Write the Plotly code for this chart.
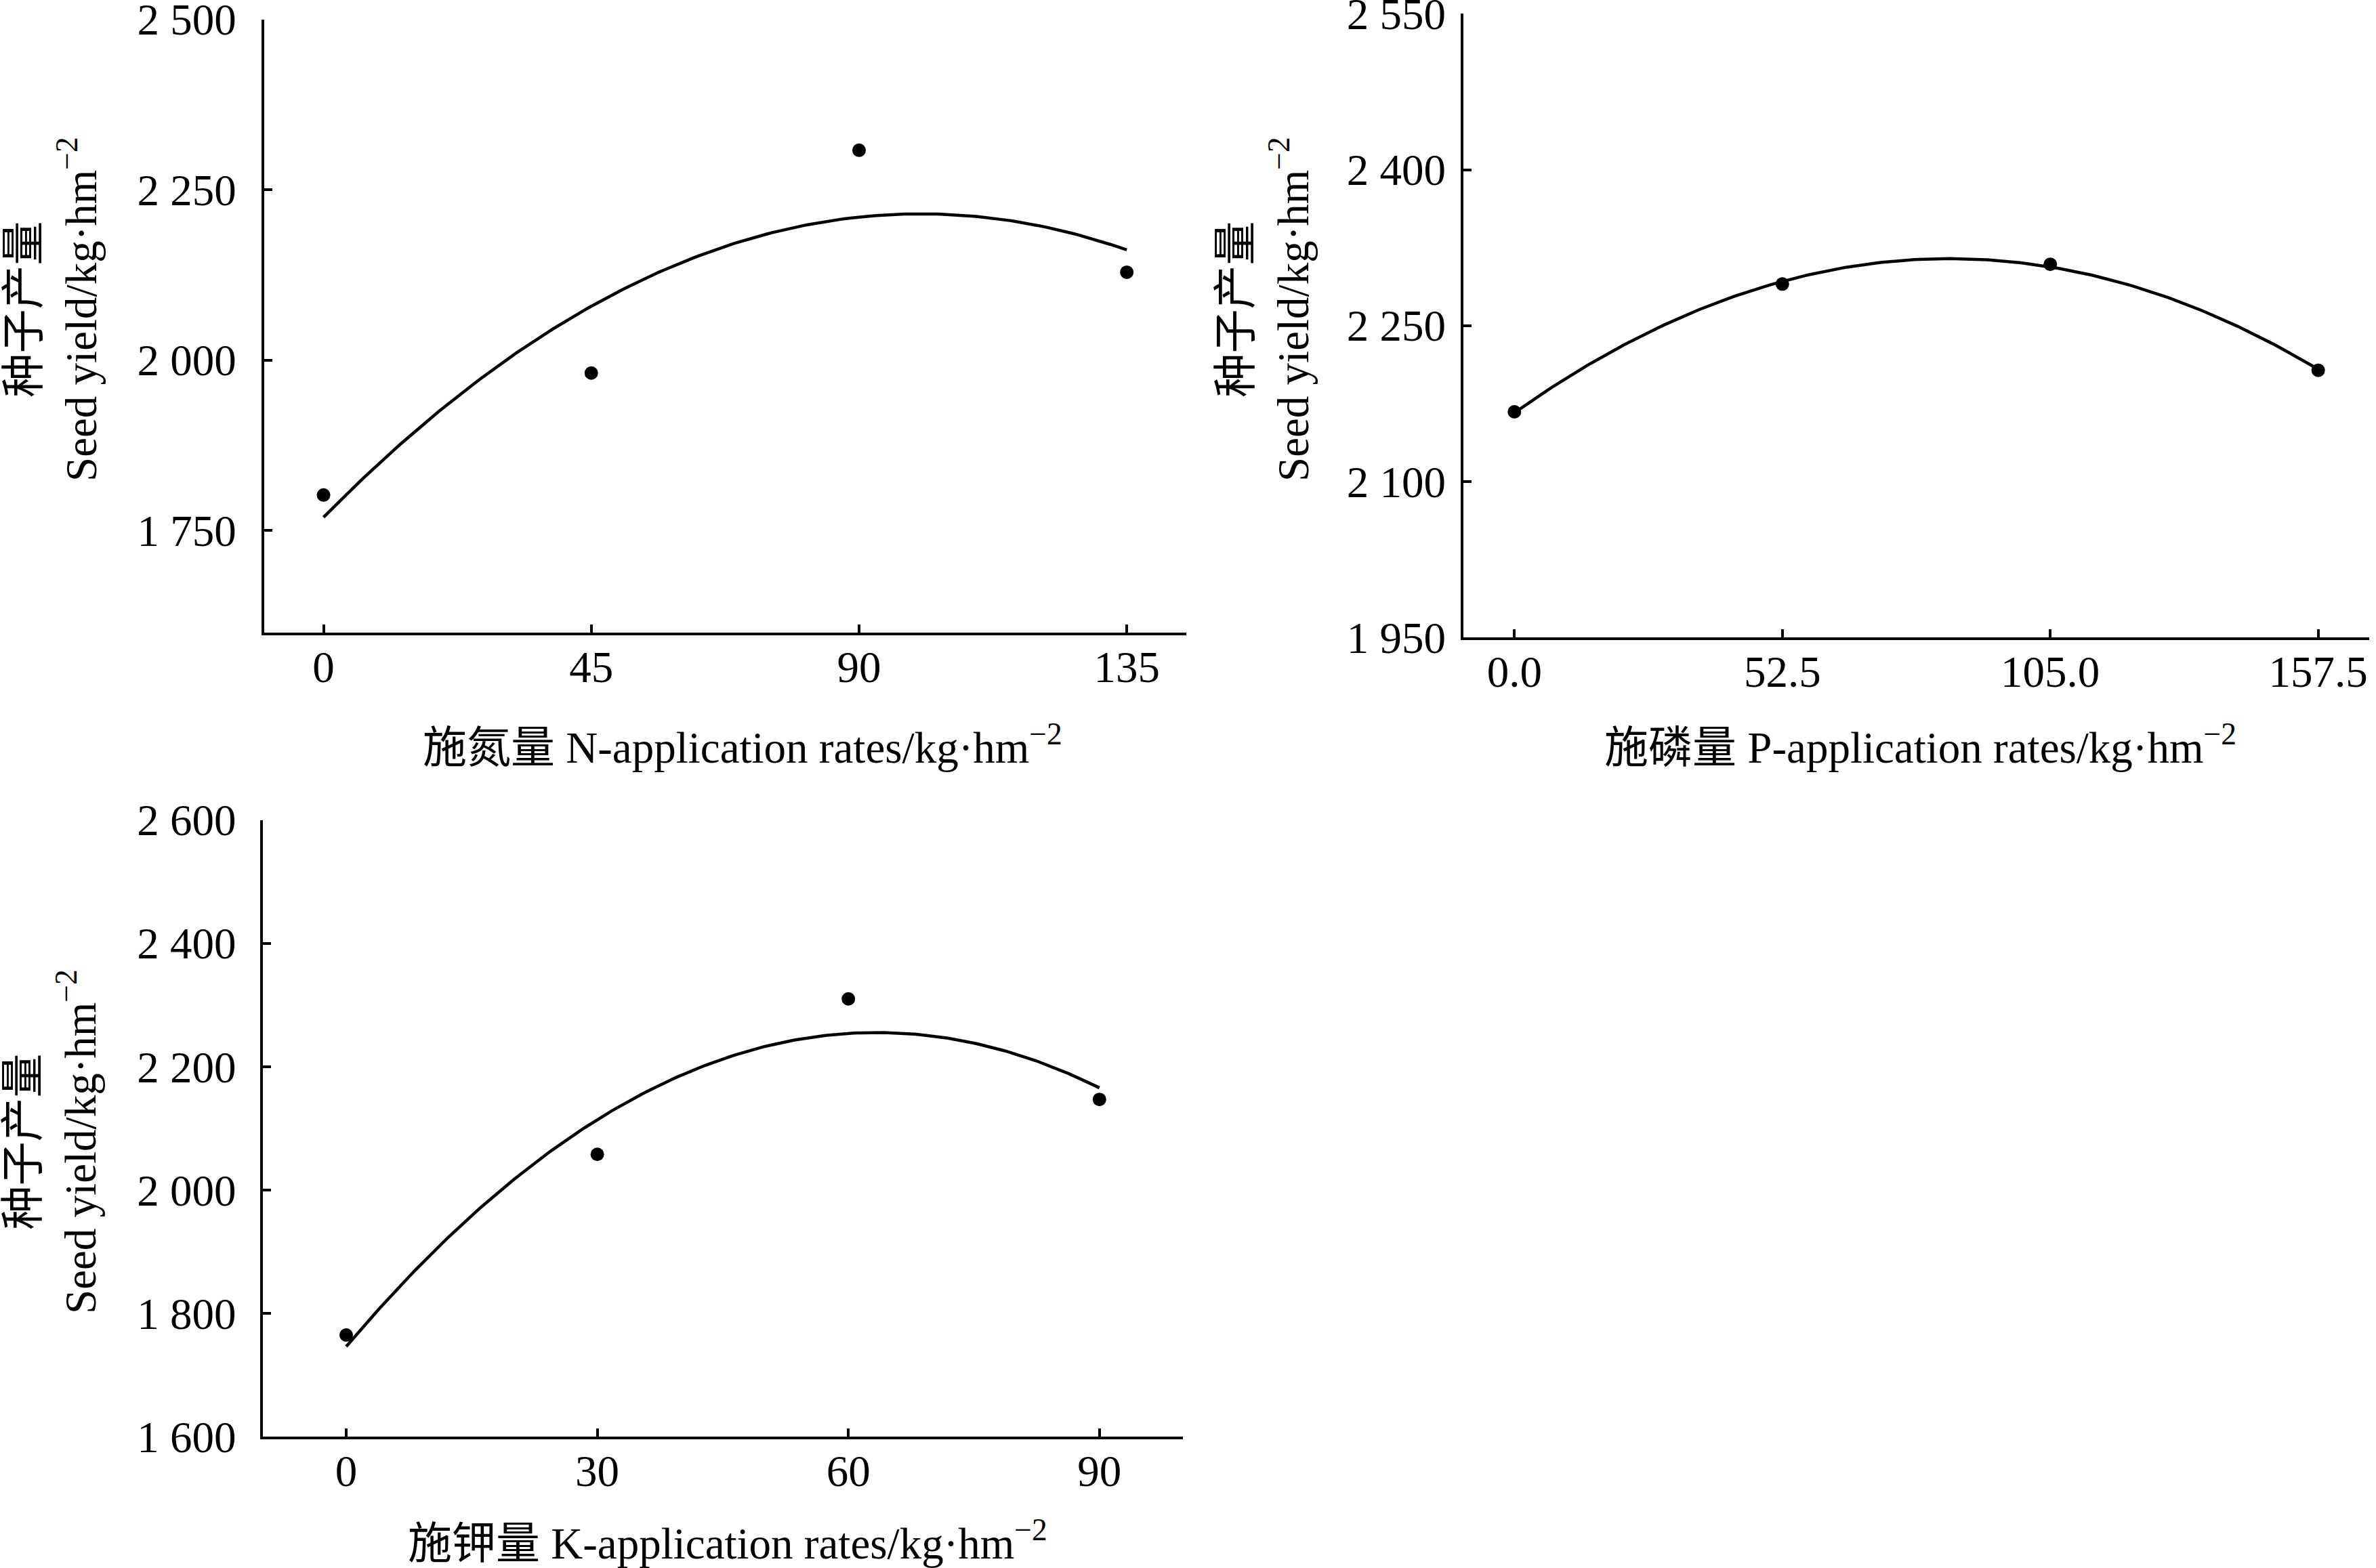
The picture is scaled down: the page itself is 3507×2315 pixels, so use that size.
import numpy as np
import plotly.graph_objects as go

# readings from the figure (kg/hm2)
n_rates = [0, 45, 90, 135]
n_yield = [1802, 1981, 2308, 2129]

p_rates = [0.0, 52.5, 105.0, 157.5]
p_yield = [2167, 2290, 2309, 2207]

k_rates = [0, 30, 60, 90]
k_yield = [1765, 2058, 2310, 2147]

n_xticks = [0, 45, 90, 135]
n_xtext = ["0", "45", "90", "135"]
n_yticks = [1750, 2000, 2250, 2500]
n_ytext = ["1 750", "2 000", "2 250", "2 500"]

p_xticks = [0.0, 52.5, 105.0, 157.5]
p_xtext = ["0.0", "52.5", "105.0", "157.5"]
p_yticks = [1950, 2100, 2250, 2400, 2550]
p_ytext = ["1 950", "2 100", "2 250", "2 400", "2 550"]

k_xticks = [0, 30, 60, 90]
k_xtext = ["0", "30", "60", "90"]
k_yticks = [1600, 1800, 2000, 2200, 2400, 2600]
k_ytext = ["1 600", "1 800", "2 000", "2 200", "2 400", "2 600"]

W, H = 3507, 2315
FONT = "Liberation Serif, Times New Roman, Noto Sans CJK SC"
FS = 65
ytitle = "种子产量<br>Seed yield/kg·hm<sup>−2</sup>"


def fx(px):
    return px / W


def fy(py):
    return 1 - py / H


fig = go.Figure()

panels = [
    # rates, yields, axis suffix, xrange, yrange, ticks
    (n_rates, n_yield, "", [-10, 145], [1600, 2500], n_xticks, n_xtext, n_yticks, n_ytext),
    (p_rates, p_yield, "2", [-10, 167.5], [1950, 2550], p_xticks, p_xtext, p_yticks, p_ytext),
    (k_rates, k_yield, "3", [-10, 100], [1600, 2600], k_xticks, k_xtext, k_yticks, k_ytext),
]

for rates, yields, sfx, xr, yr, xt, xtt, yt, ytt in panels:
    # quadratic regression of the plotted points
    coef = np.polyfit(rates, yields, 2)
    xs = np.linspace(min(rates), max(rates), 200)
    fig.add_trace(go.Scatter(x=xs, y=np.polyval(coef, xs), mode="lines",
                             line=dict(color="black", width=4.5),
                             xaxis="x" + sfx, yaxis="y" + sfx, hoverinfo="skip"))
    fig.add_trace(go.Scatter(x=rates, y=yields, mode="markers",
                             marker=dict(color="black", size=20),
                             xaxis="x" + sfx, yaxis="y" + sfx))

axis_common = dict(showgrid=False, zeroline=False, showline=True, linecolor="black",
                   linewidth=4, ticks="inside", ticklen=12, tickwidth=4, tickcolor="black",
                   automargin=False, ticklabeloverflow="allow",
                   tickfont=dict(family=FONT, size=FS, color="black"))

domains = [
    ([fx(389.7), fx(1751)], [fy(934), fy(28.7)], 24, -9),
    ([fx(2160), fx(3497)], [fy(941), fy(20.4)], 9, -9),
    ([fx(387.5), fx(1746.3)], [fy(2121.3), fy(1210.6)], 22, -9),
]

layout = {}
for (rates, yields, sfx, xr, yr, xt, xtt, yt, ytt), (dx, dy, ysd, xsd) in zip(panels, domains):
    layout["xaxis" + sfx] = dict(axis_common, domain=dx, range=xr, tickvals=xt, ticktext=xtt,
                                 anchor="y" + sfx, ticklabelstandoff=xsd)
    layout["yaxis" + sfx] = dict(axis_common, domain=dy, range=yr, tickvals=yt, ticktext=ytt,
                                 anchor="x" + sfx, ticklabelstandoff=ysd)

annotations = []
for cx, cy in [(78, 457), (1867, 457), (76, 1686)]:
    annotations.append(dict(text=ytitle, x=fx(cx), y=fy(cy), xref="paper", yref="paper",
                            textangle=-90, showarrow=False, xanchor="center", yanchor="middle",
                            font=dict(family=FONT, size=FS, color="black")))

xtitles = [
    ("施氮量 N-application rates/kg·hm<sup>−2</sup>", 1096, 1099),
    ("施磷量 P-application rates/kg·hm<sup>−2</sup>", 2834, 1099),
    ("施钾量 K-application rates/kg·hm<sup>−2</sup>", 1074, 2274),
]
for text, cx, cy in xtitles:
    annotations.append(dict(text=text, x=fx(cx), y=fy(cy), xref="paper", yref="paper",
                            showarrow=False, xanchor="center", yanchor="middle",
                            font=dict(family=FONT, size=FS, color="black")))

fig.update_layout(
    width=W, height=H,
    margin=dict(l=0, r=0, t=0, b=0, autoexpand=False),
    paper_bgcolor="white", plot_bgcolor="white",
    showlegend=False,
    annotations=annotations,
    **layout,
)

# drop the page's default body margin so the figure sits at the window corner
fig.write_html("out.html", config={"displayModeBar": False},
               post_script="document.body.style.margin = '0';")
